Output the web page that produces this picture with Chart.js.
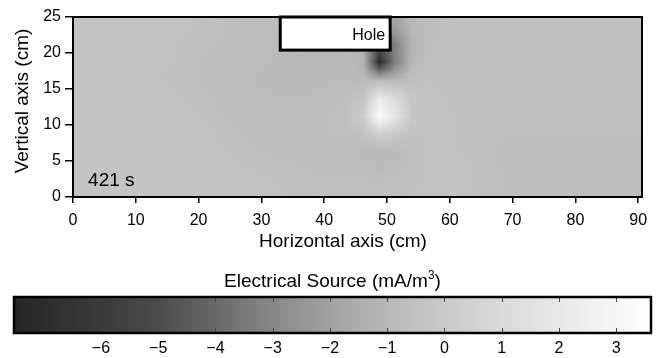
<!DOCTYPE html>
<html>
<head>
<meta charset="utf-8">
<script src="https://cdn.jsdelivr.net/npm/chart.js@4.4.1/dist/chart.umd.min.js"></script>
<style>
  html, body { margin: 0; padding: 0; background: #fff; }
  #field { position: absolute; left: 0; top: 0; width: 657px; height: 265px; }
  #bar { position: absolute; left: 0; top: 265px; width: 657px; height: 93px; }
</style>
</head>
<body>
<div id="field"><canvas id="c1"></canvas></div>
<div id="bar"><canvas id="c2"></canvas></div>
<script>
// cell centres (cm)
const cellX = [1.25, 3.75, 6.25, 8.75, 11.25, 13.75, 16.25, 18.75, 21.25, 23.75, 26.25, 28.75,
  31.25, 33.75, 36.25, 38.75, 41.25, 43.75, 46.25, 48.75, 51.25, 53.75, 56.25, 58.75, 61.25,
  63.75, 66.25, 68.75, 71.25, 73.75, 76.25, 78.75, 81.25, 83.75, 86.25, 88.75, 91.25]
const cellY = [23.75, 21.25, 18.75, 16.25, 13.75, 11.25, 8.75, 6.25, 3.75, 1.25]

// electrical source (mA/m3), one row per cellY, one value per cellX
const source = [
  [-0.35, -0.35, -0.35, -0.35, -0.35, -0.35, -0.4, -0.45, -0.5, -0.6, -0.65, -0.7, -0.7,
   -0.8, -0.8, -0.8, -0.9, -1.0, -1.3, -2.0, -2.0, -1.0, -0.7, -0.6,
   -0.55, -0.55, -0.55, -0.55, -0.55, -0.55, -0.55, -0.55, -0.55, -0.55, -0.55, -0.55, -0.55],
  [-0.35, -0.35, -0.35, -0.35, -0.35, -0.35, -0.45, -0.55, -0.6, -0.65, -0.7, -0.75, -0.8,
   -0.85, -0.9, -0.9, -0.9, -1.0, -1.4, -4.5, -3.2, -1.2, -0.7, -0.55,
   -0.5, -0.5, -0.5, -0.5, -0.5, -0.5, -0.5, -0.5, -0.5, -0.5, -0.5, -0.5, -0.5],
  [-0.35, -0.35, -0.35, -0.35, -0.35, -0.4, -0.45, -0.55, -0.65, -0.7, -0.75, -0.8, -0.85,
   -0.95, -1.0, -0.95, -0.9, -0.9, -1.2, -7.3, -3.2, -1.0, -0.6, -0.5,
   -0.5, -0.5, -0.5, -0.5, -0.5, -0.5, -0.5, -0.5, -0.5, -0.5, -0.5, -0.5, -0.5],
  [-0.35, -0.35, -0.35, -0.35, -0.4, -0.45, -0.5, -0.6, -0.7, -0.75, -0.8, -0.85, -0.9,
   -1.0, -1.0, -0.9, -0.85, -0.85, -0.9, -0.8, -0.9, -0.6, -0.45, -0.5,
   -0.5, -0.5, -0.5, -0.5, -0.5, -0.5, -0.5, -0.5, -0.5, -0.5, -0.5, -0.5, -0.5],
  [-0.35, -0.35, -0.35, -0.35, -0.35, -0.35, -0.4, -0.5, -0.6, -0.7, -0.75, -0.8, -0.8,
   -0.85, -0.85, -0.8, -0.7, -0.6, -0.2, 2.2, 1.2, -0.2, -0.4, -0.45,
   -0.5, -0.5, -0.5, -0.5, -0.5, -0.5, -0.5, -0.5, -0.5, -0.5, -0.5, -0.5, -0.5],
  [-0.35, -0.35, -0.35, -0.35, -0.35, -0.35, -0.35, -0.4, -0.5, -0.6, -0.7, -0.75, -0.8,
   -0.8, -0.75, -0.7, -0.6, -0.5, 0.2, 3.4, 1.8, -0.1, -0.35, -0.4, -0.45,
   -0.5, -0.5, -0.5, -0.5, -0.5, -0.5, -0.5, -0.5, -0.5, -0.5, -0.5, -0.5],
  [-0.35, -0.35, -0.35, -0.35, -0.35, -0.35, -0.35, -0.35, -0.4, -0.5, -0.6, -0.7, -0.75,
   -0.75, -0.7, -0.65, -0.6, -0.6, -0.5, 0.3, -0.1, -0.5, -0.4, -0.4, -0.45, -0.5, -0.55,
   -0.6, -0.6, -0.6, -0.6, -0.6, -0.6, -0.6, -0.6, -0.6, -0.6],
  [-0.35, -0.35, -0.35, -0.35, -0.35, -0.35, -0.35, -0.35, -0.35, -0.4, -0.5, -0.6, -0.65,
   -0.7, -0.75, -0.75, -0.75, -0.8, -0.9, -1.0, -0.9, -0.6, -0.45, -0.4, -0.45, -0.5, -0.6,
   -0.65, -0.65, -0.65, -0.65, -0.65, -0.65, -0.65, -0.65, -0.65, -0.65],
  [-0.35, -0.35, -0.35, -0.35, -0.35, -0.35, -0.35, -0.35, -0.35, -0.35, -0.4, -0.45, -0.5,
   -0.55, -0.6, -0.65, -0.65, -0.7, -0.75, -0.8, -0.7, -0.55, -0.45, -0.4, -0.4, -0.45, -0.55,
   -0.65, -0.65, -0.65, -0.65, -0.65, -0.65, -0.65, -0.65, -0.65, -0.65],
  [-0.35, -0.35, -0.35, -0.35, -0.35, -0.35, -0.35, -0.35, -0.35, -0.35, -0.35, -0.35,
   -0.4, -0.45, -0.5, -0.5, -0.55, -0.55, -0.55, -0.55, -0.5, -0.45, -0.4, -0.4, -0.4, -0.45, -0.55,
   -0.65, -0.65, -0.65, -0.65, -0.65, -0.65, -0.65, -0.65, -0.65, -0.65]
]

// grey colour map (value -> grey level)
const cmapValues = [-7.52, -6, -5, -4, -3, -2, -1, 0, 1, 2, 3, 3.61]
const cmapGrays = [38, 58, 76, 104, 136, 162, 184, 202, 218, 232, 246, 255]

const xTicks = [0, 10, 20, 30, 40, 50, 60, 70, 80, 90]
const yTicks = [0, 5, 10, 15, 20, 25]
const barTicks = [-6, -5, -4, -3, -2, -1, 0, 1, 2, 3]

const holeX = [33, 50.5]
const holeY = [20.4, 25]

Chart.defaults.font.family = '"Liberation Sans", Arial, Helvetica, sans-serif'
Chart.defaults.color = '#000'

const grayFor = (v) => {
  if (v <= cmapValues[0]) return cmapGrays[0]
  for (let i = 1; i < cmapValues.length; i++) {
    if (v <= cmapValues[i]) {
      const t = (v - cmapValues[i - 1]) / (cmapValues[i] - cmapValues[i - 1])
      return Math.round(cmapGrays[i - 1] + t * (cmapGrays[i] - cmapGrays[i - 1]))
    }
  }
  return cmapGrays[cmapGrays.length - 1]
}

const fieldPlugin = {
  id: 'field',
  beforeDatasetsDraw(chart) {
    const { ctx, chartArea: a, scales: { x, y } } = chart
    const off = document.createElement('canvas')
    off.width = cellX.length
    off.height = cellY.length
    const octx = off.getContext('2d')
    const img = octx.createImageData(off.width, off.height)
    source.forEach((row, j) => row.forEach((v, i) => {
      const g = grayFor(v)
      const p = (j * off.width + i) * 4
      img.data[p] = g; img.data[p + 1] = g; img.data[p + 2] = g; img.data[p + 3] = 255
    }))
    octx.putImageData(img, 0, 0)
    const hx = (cellX[1] - cellX[0]) / 2
    const hy = (cellY[0] - cellY[1]) / 2
    const x0 = x.getPixelForValue(cellX[0] - hx)
    const x1 = x.getPixelForValue(cellX[cellX.length - 1] + hx)
    const y0 = y.getPixelForValue(cellY[0] + hy)
    const y1 = y.getPixelForValue(cellY[cellY.length - 1] - hy)
    ctx.save()
    ctx.beginPath()
    ctx.rect(a.left, a.top, a.width, a.height)
    ctx.clip()
    ctx.imageSmoothingEnabled = true
    ctx.drawImage(off, x0, y0, x1 - x0, y1 - y0)
    ctx.restore()
  },
  afterDatasetsDraw(chart) {
    const { ctx, chartArea: a, scales: { x, y } } = chart
    ctx.save()
    // frame
    ctx.strokeStyle = '#000'
    ctx.lineWidth = 2
    ctx.strokeRect(a.left, a.top, a.width, a.height)
    // hole
    const hx0 = x.getPixelForValue(holeX[0]), hx1 = x.getPixelForValue(holeX[1])
    const hy0 = y.getPixelForValue(holeY[1]), hy1 = y.getPixelForValue(holeY[0])
    ctx.fillStyle = '#fff'
    ctx.fillRect(hx0, hy0, hx1 - hx0, hy1 - hy0)
    ctx.lineWidth = 3
    ctx.strokeRect(hx0, hy0, hx1 - hx0, hy1 - hy0)
    ctx.fillStyle = '#000'
    ctx.font = '16px "Liberation Sans", Arial, sans-serif'
    ctx.textAlign = 'right'
    ctx.textBaseline = 'middle'
    ctx.fillText('Hole', hx1 - 5, (hy0 + hy1) / 2 + 2)
    // time label
    ctx.font = '19px "Liberation Sans", Arial, sans-serif'
    ctx.textAlign = 'left'
    ctx.fillText('421 s', x.getPixelForValue(2.4), y.getPixelForValue(2.3))
    ctx.restore()
  },
  afterDraw(chart) {
    const { ctx } = chart
    ctx.save()
    ctx.fillStyle = '#000'
    ctx.font = '19px "Liberation Sans", Arial, sans-serif'
    ctx.textAlign = 'center'
    ctx.textBaseline = 'middle'
    ctx.fillText('Horizontal axis (cm)', 343, 242)
    ctx.translate(23, 101)
    ctx.rotate(-Math.PI / 2)
    ctx.fillText('Vertical axis (cm)', 0, 0)
    ctx.restore()
  }
}

new Chart(document.getElementById('c1'), {
  type: 'scatter',
  data: { datasets: [] },
  options: {
    animation: false,
    responsive: true,
    maintainAspectRatio: false,
    layout: { padding: { top: 17, right: 15, left: 0, bottom: 0 } },
    plugins: { legend: { display: false }, tooltip: { enabled: false } },
    scales: {
      x: {
        type: 'linear', min: 0, max: 90.6,
        afterBuildTicks: s => { s.ticks = xTicks.map(v => ({ value: v })) },
        afterFit: s => { s.height = 68 },
        grid: { drawOnChartArea: false, drawTicks: true, tickLength: 6, color: '#000', lineWidth: 1.5 },
        border: { display: true, color: '#000', width: 2 },
        ticks: { font: { size: 16 }, color: '#000', padding: 8, maxRotation: 0, autoSkip: false }
      },
      y: {
        type: 'linear', min: 0, max: 25,
        afterBuildTicks: s => { s.ticks = yTicks.map(v => ({ value: v })) },
        afterFit: s => { s.width = 73 },
        grid: { drawOnChartArea: false, drawTicks: true, tickLength: 8, color: '#000', lineWidth: 1.5 },
        border: { display: true, color: '#000', width: 2 },
        ticks: { font: { size: 16 }, color: '#000', padding: 4 }
      }
    }
  },
  plugins: [fieldPlugin]
})

const barPlugin = {
  id: 'colorbar',
  beforeDatasetsDraw(chart) {
    const { ctx, chartArea: a, scales: { x } } = chart
    const grad = ctx.createLinearGradient(a.left, 0, a.right, 0)
    cmapValues.forEach((v, i) => {
      const pos = Math.min(1, Math.max(0, (x.getPixelForValue(v) - a.left) / a.width))
      const g = cmapGrays[i]
      grad.addColorStop(pos, `rgb(${g},${g},${g})`)
    })
    ctx.save()
    ctx.fillStyle = grad
    ctx.fillRect(a.left, a.top, a.width, a.height)
    ctx.strokeStyle = '#444'
    ctx.lineWidth = 1
    barTicks.forEach(v => {
      const px = Math.round(x.getPixelForValue(v)) + 0.5
      ctx.beginPath()
      ctx.moveTo(px, a.top); ctx.lineTo(px, a.top + 5)
      ctx.moveTo(px, a.bottom); ctx.lineTo(px, a.bottom - 5)
      ctx.stroke()
    })
    ctx.strokeStyle = '#000'
    ctx.lineWidth = 2.5
    ctx.strokeRect(a.left, a.top, a.width, a.height)
    // title with superscript
    const cx = (a.left + a.right) / 2
    const main = 'Electrical Source (mA/m'
    ctx.fillStyle = '#000'
    ctx.textBaseline = 'alphabetic'
    ctx.textAlign = 'left'
    ctx.font = '19px "Liberation Sans", Arial, sans-serif'
    const w1 = ctx.measureText(main).width
    const w3 = ctx.measureText(')').width
    ctx.font = '12px "Liberation Sans", Arial, sans-serif'
    const w2 = ctx.measureText('3').width
    const start = cx - (w1 + w2 + w3) / 2
    const base = 22
    ctx.font = '19px "Liberation Sans", Arial, sans-serif'
    ctx.fillText(main, start, base)
    ctx.fillText(')', start + w1 + w2, base)
    ctx.font = '12px "Liberation Sans", Arial, sans-serif'
    ctx.fillText('3', start + w1, base - 8)
    ctx.restore()
  }
}

new Chart(document.getElementById('c2'), {
  type: 'scatter',
  data: { datasets: [] },
  options: {
    animation: false,
    responsive: true,
    maintainAspectRatio: false,
    layout: { padding: { top: 32, right: 6, left: 14, bottom: 0 } },
    plugins: { legend: { display: false }, tooltip: { enabled: false } },
    scales: {
      x: {
        type: 'linear', min: -7.52, max: 3.61,
        afterBuildTicks: s => { s.ticks = barTicks.map(v => ({ value: v })) },
        afterFit: s => { s.height = 25 },
        grid: { display: false, drawTicks: false },
        border: { display: false },
        ticks: {
          font: { size: 16 }, color: '#000', padding: 6, maxRotation: 0, autoSkip: false,
          callback: v => (v < 0 ? '\u2212' + Math.abs(v) : String(v))
        }
      },
      y: { display: false, min: 0, max: 1 }
    }
  },
  plugins: [barPlugin]
})
</script>
</body>
</html>
